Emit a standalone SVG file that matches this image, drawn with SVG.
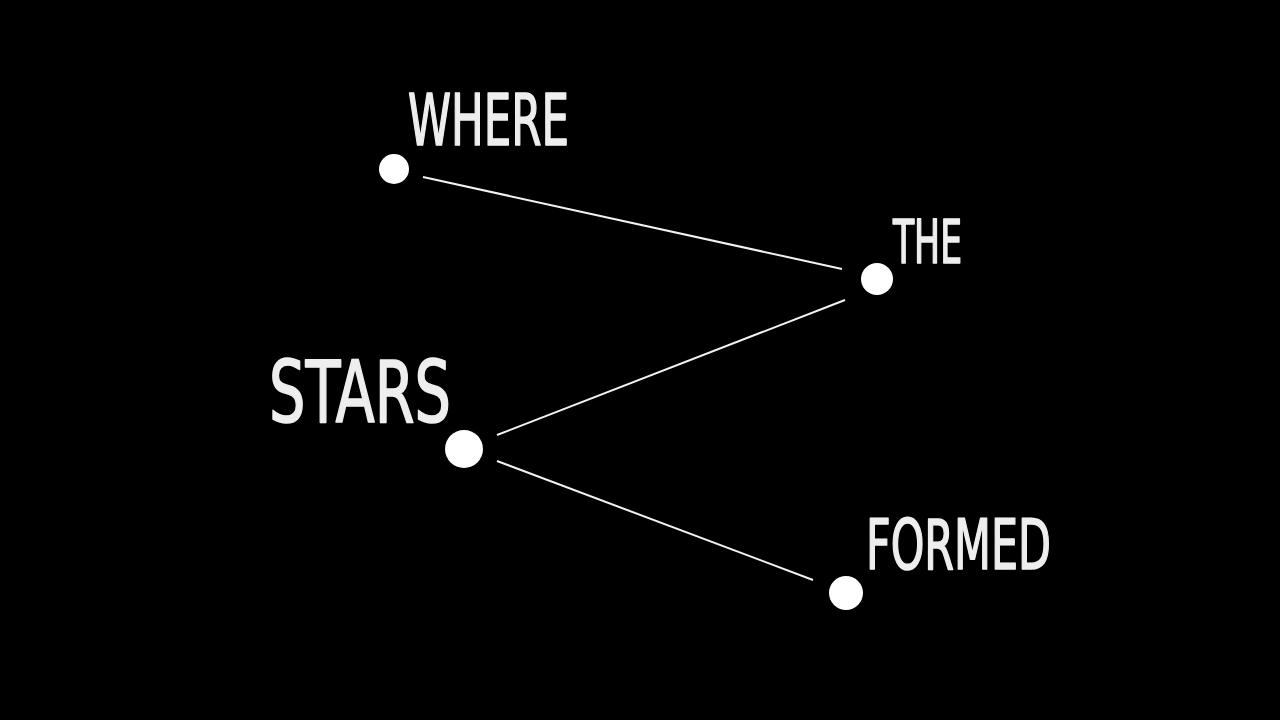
<svg xmlns="http://www.w3.org/2000/svg" width="1280" height="720" viewBox="0 0 1280 720">
<style>
.lbl{font-family:"DejaVu Sans Condensed","Liberation Sans",sans-serif;fill:#eeeeee;stroke:#eeeeee;stroke-width:1.6;stroke-linejoin:round;font-weight:normal}
.dot{fill:#ffffff}
.edge{stroke:#f2f2f2;stroke-width:2;fill:none}
</style>
<rect width="1280" height="720" fill="#000000"/>
<g id="connectors">
<line class="edge" x1="423" y1="177" x2="842" y2="269"/>
<line class="edge" x1="845" y1="300" x2="497" y2="435"/>
<line class="edge" x1="497" y1="461" x2="813" y2="580"/>
</g>
<g id="node-where">
<circle class="dot" cx="394" cy="169" r="15"/>
<text class="lbl" x="408" y="145" font-size="72" textLength="161" lengthAdjust="spacingAndGlyphs">WHERE</text>
</g>
<g id="node-the">
<circle class="dot" cx="877" cy="279" r="16"/>
<text class="lbl" x="893" y="263" font-size="61" textLength="69" lengthAdjust="spacingAndGlyphs">THE</text>
</g>
<g id="node-stars">
<circle class="dot" cx="464" cy="449" r="19"/>
<text class="lbl" x="269" y="422" font-size="85" textLength="182" lengthAdjust="spacingAndGlyphs">STARS</text>
</g>
<g id="node-formed">
<circle class="dot" cx="846" cy="593" r="17"/>
<text class="lbl" x="866" y="569" font-size="70" textLength="185" lengthAdjust="spacingAndGlyphs">FORMED</text>
</g>
</svg>
